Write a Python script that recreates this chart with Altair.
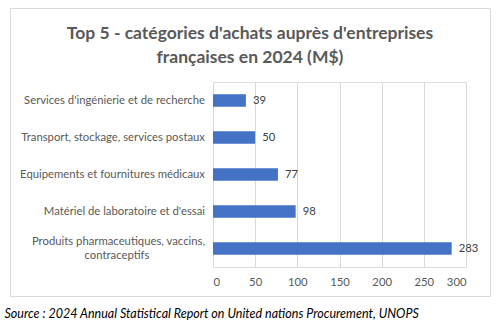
import altair as alt
import pandas as pd

categories = [
    "Services d'ingénierie et de recherche",
    "Transport, stockage, services postaux",
    "Equipements et fournitures médicaux",
    "Matériel de laboratoire et d'essai",
    "Produits pharmaceutiques, vaccins,|contraceptifs",
]
values = [39, 50, 77, 98, 283]
x_ticks = [0, 50, 100, 150, 200, 250, 300]
title_lines = ["Top 5 - catégories d'achats auprès d'entreprises", "françaises en 2024 (M$)"]
source_text = "Source : 2024 Annual Statistical Report on United nations Procurement, UNOPS"

df = pd.DataFrame({"cat": categories, "val": values})
df["line1"] = [c.split("|")[0] for c in categories]
df["line2"] = [c.split("|")[1] if "|" in c else "" for c in categories]
df["multi"] = [("|" in c) for c in categories]

FONT = "Lato"
W, H = 253, 185
PL, PT = 213, 82
LBL = 11.3

y_enc = alt.Y(
    "cat:N",
    sort=categories,
    scale=alt.Scale(paddingInner=0.66, paddingOuter=0.33),
    axis=None,
)

x_enc = alt.X(
    "val:Q",
    scale=alt.Scale(domain=[0, 300], nice=False),
    axis=alt.Axis(
        values=x_ticks,
        grid=True,
        gridColor="#d9d9d9",
        domain=False,
        ticks=False,
        labelPadding=9,
        labelFontSize=LBL,
        labelColor="#595959",
        labelFont=FONT,
        title=source_text,
        titleFont=FONT,
        titleFontStyle="italic",
        titleFontWeight="normal",
        titleFontSize=12.5,
        titleColor="#000000",
        titleX=4 - PL,
        titleY=313 - PT - H,
        titleAlign="left",
        titleBaseline="middle",
        titleAnchor="start",
    ),
)

frame = alt.Chart(alt.Data(values=[{}])).mark_rect(
    filled=False, stroke="#d9d9d9", strokeWidth=1
).encode(
    x=alt.value(10.5 - PL), x2=alt.value(490.5 - PL),
    y=alt.value(8.5 - PT), y2=alt.value(296.5 - PT),
)

bars = alt.Chart(df).mark_bar(color="#4472c4").encode(x=x_enc, y=y_enc)

labels = alt.Chart(df).mark_text(
    align="left", baseline="middle", dx=7, fontSize=LBL, color="#404040", font=FONT
).encode(
    x=alt.X("val:Q"),
    y=alt.Y("cat:N", sort=categories),
    text=alt.Text("val:Q"),
)

ylab_style = dict(baseline="middle", fontSize=LBL, color="#595959", font=FONT)

ylab_single = alt.Chart(df).transform_filter("!datum.multi").mark_text(
    align="right", **ylab_style
).encode(
    x=alt.value(-8), y=alt.Y("cat:N", sort=categories), text="line1:N"
)

ylab_multi1 = alt.Chart(df).transform_filter("datum.multi").mark_text(
    align="right", dy=-7, **ylab_style
).encode(
    x=alt.value(-8), y=alt.Y("cat:N", sort=categories), text="line1:N"
)

ylab_multi2 = alt.Chart(df).transform_filter("datum.multi").mark_text(
    align="center", dy=7, **ylab_style
).encode(
    x=alt.value(-96), y=alt.Y("cat:N", sort=categories), text="line2:N"
)

chart = alt.layer(frame, bars, labels, ylab_single, ylab_multi1, ylab_multi2).properties(
    width=W,
    height=H,
    padding={"left": PL, "top": PT, "right": 504 - PL - W, "bottom": 328 - PT - H},
    autosize=alt.AutoSizeParams(type="none"),
    title=alt.TitleParams(
        text=title_lines,
        font=FONT,
        fontSize=17.5,
        fontWeight="bold",
        color="#595959",
        anchor="middle",
        dx=250 - (PL + W / 2),
        offset=-58,
        lineHeight=24,
    ),
).configure_view(stroke=None).configure(background="white")

chart.save("out.html", embed_options={"renderer": "svg", "actions": False})
